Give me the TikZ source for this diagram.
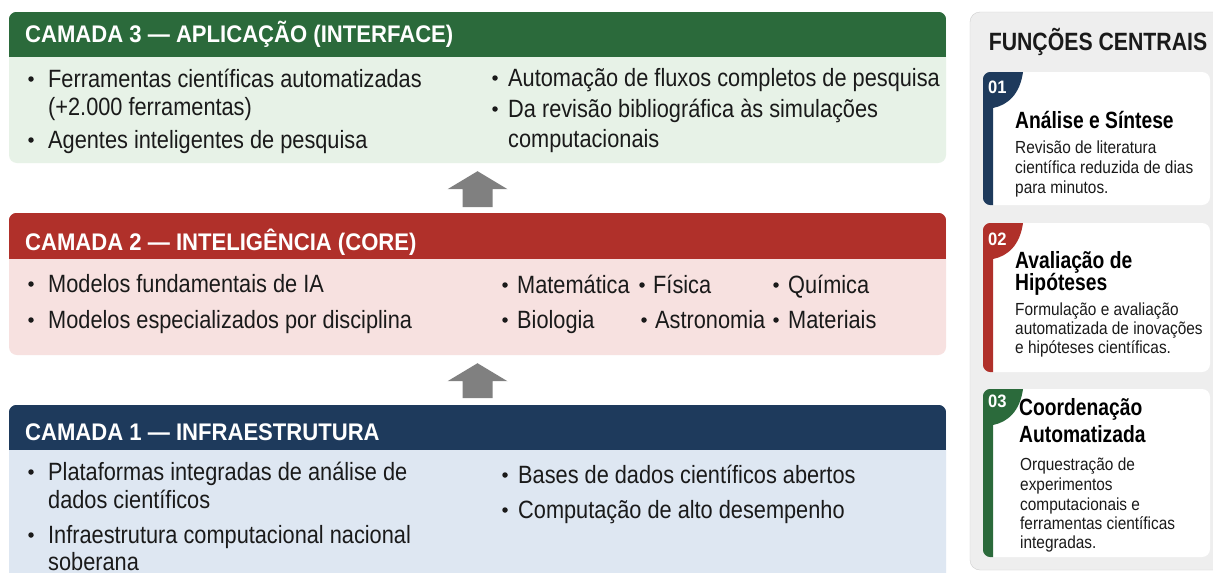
\documentclass[tikz,border=0pt]{standalone}
\usepackage{fontspec}
\setmainfont{Liberation Sans}[FakeStretch=0.87]
\newfontfamily\fonttit{Liberation Sans}[FakeStretch=0.92]
\newfontfamily\fontpainel{Liberation Sans}[FakeStretch=0.85]
\newfontfamily\fontcartao{Liberation Sans}[FakeStretch=0.82]
\newfontfamily\fontdesc{Liberation Sans}[FakeStretch=0.88]
\usetikzlibrary{positioning}

\definecolor{verdeEsc}{HTML}{2B6A3B}
\definecolor{verdeCla}{HTML}{E7F2E7}
\definecolor{vermEsc}{HTML}{B0302A}
\definecolor{vermCla}{HTML}{F7E1E0}
\definecolor{azulEsc}{HTML}{1E3A5C}
\definecolor{azulCla}{HTML}{DEE7F2}
\definecolor{cinzaSeta}{HTML}{808080}
\definecolor{painel}{HTML}{EEEEEE}
\definecolor{borda}{HTML}{CFCFCF}
\definecolor{texto}{HTML}{1A1A1A}

\tikzset{
  camada/.style={rectangle, rounded corners=8pt, minimum width=937pt, inner sep=0pt},
  titulo/.style={anchor=base west, inner sep=0pt, text=white, font=\fonttit\fontsize{24}{28}\selectfont\bfseries},
  item/.style={anchor=base west, inner sep=0pt, text=texto, font=\fontsize{25}{29}\selectfont},
  marca/.style={circle, fill=texto, minimum size=5.5pt, inner sep=0pt},
  seta/.style={fill=cinzaSeta},
  cartao/.style={rectangle, rounded corners=8pt, fill=white, minimum width=227pt, inner sep=0pt},
  numero/.style={anchor=base west, inner sep=0pt, text=white, font=\fonttit\fontsize{18}{20}\selectfont\bfseries},
  ctitulo/.style={anchor=base west, inner sep=0pt, text=black, font=\fontcartao\fontsize{23.5}{27}\selectfont\bfseries},
  cdesc/.style={anchor=base west, inner sep=0pt, text=texto, font=\fontdesc\fontsize{17.5}{20}\selectfont}
}

\begin{document}
\begin{tikzpicture}[x=1pt, y=-1pt]
\useasboundingbox (0,0) rectangle (1213,573);
\fill[white] (0,0) rectangle (1213,573);

% camada 3
\node[camada, fill=verdeCla, minimum height=151pt] (cam3) at (477.5,87.5) {};
\begin{scope}
\clip[rounded corners=8pt] (cam3.north west) rectangle (cam3.south east);
\fill[verdeEsc] (cam3.north west) rectangle ([yshift=-45pt]cam3.north east);
\end{scope}
\node[titulo] (cam3t) at (25,42) {CAMADA 3 — APLICAÇÃO (INTERFACE)};
\node[marca] (m31) at (31,79) {};
\node[item] (i31) at (48,87) {Ferramentas científicas automatizadas};
\node[item] (i31b) at (48,115) {(+2.000 ferramentas)};
\node[marca] (m32) at (31,140) {};
\node[item] (i32) at (48,148) {Agentes inteligentes de pesquisa};
\node[marca] (m33) at (495,78) {};
\node[item] (i33) at (508,86) {Automação de fluxos completos de pesquisa};
\node[marca] (m34) at (495,109) {};
\node[item] (i34) at (508,117) {Da revisão bibliográfica às simulações};
\node[item] (i34b) at (508,147) {computacionais};

% camada 2
\node[camada, fill=vermCla, minimum height=142pt] (cam2) at (477.5,284) {};
\begin{scope}
\clip[rounded corners=8pt] (cam2.north west) rectangle (cam2.south east);
\fill[vermEsc] (cam2.north west) rectangle ([yshift=-46pt]cam2.north east);
\end{scope}
\node[titulo] (cam2t) at (25,250) {CAMADA 2 — INTELIGÊNCIA (CORE)};
\node[marca] (m21) at (31,284) {};
\node[item] (i21) at (48,292) {Modelos fundamentais de IA};
\node[marca] (m22) at (31,320) {};
\node[item] (i22) at (48,328) {Modelos especializados por disciplina};
\node[marca] (m23) at (505,285) {};
\node[item] (i23) at (517,293) {Matemática};
\node[marca] (m24) at (642,285) {};
\node[item] (i24) at (653,293) {Física};
\node[marca] (m25) at (776,285) {};
\node[item] (i25) at (788,293) {Química};
\node[marca] (m26) at (505,320) {};
\node[item] (i26) at (517,328) {Biologia};
\node[marca] (m27) at (644,320) {};
\node[item] (i27) at (655,328) {Astronomia};
\node[marca] (m28) at (776,320) {};
\node[item] (i28) at (788,328) {Materiais};

% camada 1
\node[camada, fill=azulCla, minimum height=185pt] (cam1) at (477.5,497.5) {};
\begin{scope}
\clip[rounded corners=8pt] (cam1.north west) rectangle (cam1.south east);
\fill[azulEsc] (cam1.north west) rectangle ([yshift=-45pt]cam1.north east);
\end{scope}
\node[titulo] (cam1t) at (25,440) {CAMADA 1 — INFRAESTRUTURA};
\node[marca] (m11) at (31,472) {};
\node[item] (i11) at (48,480) {Plataformas integradas de análise de};
\node[item] (i11b) at (48,508) {dados científicos};
\node[marca] (m12) at (31,535) {};
\node[item] (i12) at (48,543) {Infraestrutura computacional nacional};
\node[item] (i12b) at (48,570) {soberana};
\node[marca] (m13) at (505,475) {};
\node[item] (i13) at (518,483) {Bases de dados científicos abertos};
\node[marca] (m14) at (505,510) {};
\node[item] (i14) at (518,518) {Computação de alto desempenho};

% setas entre camadas
\fill[seta] ([yshift=-8pt]cam3.south) -- ++(30,18) -- ++(-15,0) -- ++(0,18)
  -- ++(-30,0) -- ++(0,-18) -- ++(-15,0) -- cycle;
\fill[seta] ([yshift=-8pt]cam2.south) -- ++(30,18) -- ++(-15,0) -- ++(0,17)
  -- ++(-30,0) -- ++(0,-17) -- ++(-15,0) -- cycle;

% painel lateral
\node[draw=borda, fill=painel, rounded corners=10pt, minimum width=260pt,
  minimum height=558pt, inner sep=0pt] (funcoes) at (1100,291) {};
\node[anchor=base, inner sep=0pt, text=texto, font=\fontpainel\fontsize{25}{29}\selectfont\bfseries]
  (funct) at (1098,50) {FUNÇÕES CENTRAIS};

% cartao 1
\node[cartao, minimum height=133pt] (c1) at (1096.5,138.5) {};
\begin{scope}
\clip[rounded corners=8pt] (c1.north west) rectangle (c1.south east);
\fill[azulEsc] (983,72) -- (1023,72) .. controls (1020,94) and (1008,105) .. (993,108)
  -- (993,210) -- (983,210) -- cycle;
\end{scope}
\node[numero] (n1) at (988,93) {01};
\node[ctitulo] (t1) at (1015,128) {Análise e Síntese};
\node[cdesc] (d1a) at (1015,153) {Revisão de literatura};
\node[cdesc] (d1b) at (1015,173) {científica reduzida de dias};
\node[cdesc] (d1c) at (1015,193) {para minutos.};

% cartao 2
\node[cartao, minimum height=149pt] (c2) at (1096.5,297.5) {};
\begin{scope}
\clip[rounded corners=8pt] (c2.north west) rectangle (c2.south east);
\fill[vermEsc] (983,223) -- (1023,223) .. controls (1020,245) and (1008,256) .. (993,259)
  -- (993,380) -- (983,380) -- cycle;
\end{scope}
\node[numero] (n2) at (988,245) {02};
\node[ctitulo] (t2) at (1015,268) {Avaliação de};
\node[ctitulo] (t2b) at (1015,290) {Hipóteses};
\node[cdesc] (d2a) at (1015,315) {Formulação e avaliação};
\node[cdesc] (d2b) at (1015,334) {automatizada de inovações};
\node[cdesc] (d2c) at (1015,353) {e hipóteses científicas.};

% cartao 3
\node[cartao, minimum height=168pt] (c3) at (1096.5,473) {};
\begin{scope}
\clip[rounded corners=8pt] (c3.north west) rectangle (c3.south east);
\fill[verdeEsc] (983,389) -- (1023,389) .. controls (1020,411) and (1008,422) .. (993,425)
  -- (993,565) -- (983,565) -- cycle;
\end{scope}
\node[numero] (n3) at (988,407) {03};
\node[ctitulo] (t3) at (1019,415) {Coordenação};
\node[ctitulo] (t3b) at (1019,442) {Automatizada};
\node[cdesc] (d3a) at (1020,470) {Orquestração de};
\node[cdesc] (d3b) at (1020,490) {experimentos};
\node[cdesc] (d3c) at (1020,510) {computacionais e};
\node[cdesc] (d3d) at (1020,529) {ferramentas científicas};
\node[cdesc] (d3e) at (1020,548) {integradas.};
\end{tikzpicture}
\end{document}
